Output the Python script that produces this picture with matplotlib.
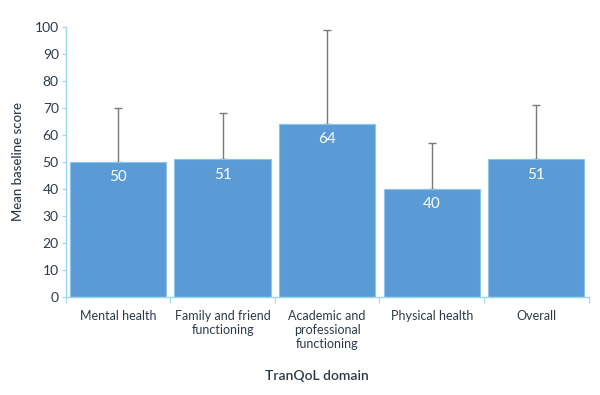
import matplotlib

matplotlib.use("Agg")
import matplotlib.pyplot as plt
import numpy as np

# values
domains = [
    "Mental health",
    "Family and friend\nfunctioning",
    "Academic and\nprofessional\nfunctioning",
    "Physical health",
    "Overall",
]
mean_scores = [50, 51, 64, 40, 51]
upper_ends = [70, 68, 99, 57, 71]
y_ticks = list(range(0, 101, 10))

TEXT = "#2b3a4a"
BAR = "#5b9bd5"
AXIS = "#9dd6f0"

plt.rcParams["font.family"] = ["Lato", "DejaVu Sans"]

fig = plt.figure(figsize=(6.0, 3.95), dpi=100)
ax = fig.add_axes([0.1095, 0.248, 0.8715, 0.684])

x = np.arange(len(domains))
err_up = np.array(upper_ends) - np.array(mean_scores)
ax.bar(x, mean_scores, width=0.92, color=BAR, edgecolor="#8cc4ec", linewidth=0.8, zorder=2)
ax.errorbar(x, mean_scores, yerr=[np.zeros_like(err_up), err_up], fmt="none",
            ecolor="#7a7a7a", elinewidth=1.0, capsize=3, capthick=1.0, zorder=1)

for xi, v in zip(x, mean_scores):
    ax.annotate(str(v), (xi, v), xytext=(0, -11), textcoords="offset points",
                ha="center", va="center", color="white", fontsize=11)

ax.set_xlim(-0.5, len(domains) - 0.5)
ax.set_ylim(0, 100)
ax.set_yticks(y_ticks)
ax.tick_params(axis="y", colors=AXIS, labelcolor=TEXT, labelsize=10, length=3, width=0.8, pad=2)

# category boundaries carry the tick marks, labels sit in between
ax.set_xticks(np.arange(-0.5, len(domains), 1.0))
ax.set_xticklabels([])
ax.set_xticks(x, minor=True)
ax.set_xticklabels(domains, minor=True)
ax.tick_params(axis="x", which="major", colors=AXIS, length=4, width=0.8)
ax.tick_params(axis="x", which="minor", length=0, labelcolor=TEXT, labelsize=9, pad=9)

for side in ["top", "right"]:
    ax.spines[side].set_visible(False)
for side in ["left", "bottom"]:
    ax.spines[side].set_color(AXIS)
    ax.spines[side].set_linewidth(1.0)

ax.set_ylabel("Mean baseline score", color=TEXT, fontsize=9.5, fontweight="medium", labelpad=8)
fig.text(0.528, 0.048, "TranQoL domain", ha="center", va="center", color=TEXT,
         fontsize=10, fontweight="semibold")

fig.savefig("out.png", dpi=100)
plt.close(fig)
